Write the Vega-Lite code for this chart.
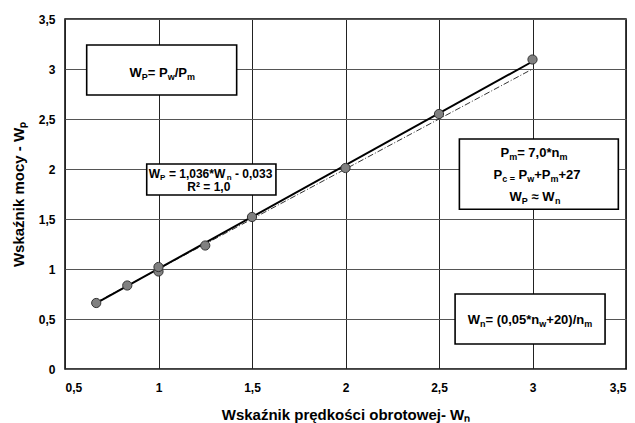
{
  "$schema": "https://vega.github.io/schema/vega-lite/v6.json",
  "width": 561,
  "height": 350,
  "autosize": "none",
  "padding": {"left": 65, "top": 19, "right": 9, "bottom": 54},
  "background": "white",
  "config": {
    "view": {"stroke": "#000", "strokeWidth": 1.5},
    "font": "Liberation Sans",
    "axis": {
      "labelFont": "Liberation Sans",
      "labelFontSize": 12,
      "labelFontWeight": "bold",
      "labelColor": "#000",
      "titleFont": "Liberation Sans",
      "titleFontSize": 15,
      "titleFontWeight": "bold",
      "titleColor": "#000",
      "ticks": false,
      "tickSize": 0,
      "domain": false,
      "grid": true,
      "gridWidth": 1
    }
  },
  "datasets": {
    "pts": [
      {"x": 0.667, "y": 0.66},
      {"x": 0.833, "y": 0.835},
      {"x": 1.0, "y": 0.975},
      {"x": 1.0, "y": 1.02},
      {"x": 1.25, "y": 1.235},
      {"x": 1.5, "y": 1.52},
      {"x": 2.0, "y": 2.01},
      {"x": 2.5, "y": 2.55},
      {"x": 3.0, "y": 3.095}
    ],
    "trend": [
      {"x": 0.667, "y": 0.658},
      {"x": 3.0, "y": 3.075}
    ],
    "ident": [
      {"x": 0.667, "y": 0.667},
      {"x": 3.0, "y": 3.0}
    ],
    "boxes": [
      {"x": 0.616, "x2": 1.418, "y": 3.24, "y2": 2.74},
      {"x": 2.609, "x2": 3.459, "y": 2.3, "y2": 1.597},
      {"x": 2.586, "x2": 3.388, "y": 0.75, "y2": 0.25},
      {"x": 0.937, "x2": 1.628, "y": 2.05, "y2": 1.74}
    ],
    "boxBase": [
      {"x": 0.8449, "y": 2.957, "t": "W"},
      {"x": 0.9426, "y": 2.957, "t": "= P"},
      {"x": 1.0864, "y": 2.957, "t": "/P"},
      {"x": 2.8289, "y": 2.156, "t": "P"},
      {"x": 2.918, "y": 2.156, "t": "= 7,0*n"},
      {"x": 2.7914, "y": 1.94, "t": "P"},
      {"x": 2.9253, "y": 1.94, "t": "P"},
      {"x": 3.0092, "y": 1.94, "t": "+P"},
      {"x": 3.1389, "y": 1.94, "t": "+27"},
      {"x": 2.8774, "y": 1.723, "t": "W"},
      {"x": 2.9944, "y": 1.723, "t": "≈ W"},
      {"x": 2.6535, "y": 0.49, "t": "W"},
      {"x": 2.7485, "y": 0.49, "t": "= (0,05*n"},
      {"x": 3.0738, "y": 0.49, "t": "+20)/n"}
    ],
    "boxSub": [
      {"x": 0.9105, "y": 2.957, "t": "P"},
      {"x": 1.0489, "y": 2.957, "t": "w"},
      {"x": 1.1521, "y": 2.957, "t": "m"},
      {"x": 2.8752, "y": 2.156, "t": "m"},
      {"x": 3.1441, "y": 2.156, "t": "m"},
      {"x": 2.8378, "y": 1.94, "t": "c ="},
      {"x": 2.9718, "y": 1.94, "t": "w"},
      {"x": 3.0961, "y": 1.94, "t": "m"},
      {"x": 2.943, "y": 1.723, "t": "P"},
      {"x": 3.1199, "y": 1.723, "t": "n"},
      {"x": 2.7191, "y": 0.49, "t": "n"},
      {"x": 3.0364, "y": 0.49, "t": "w"},
      {"x": 3.2766, "y": 0.49, "t": "m"}
    ],
    "eqBase": [
      {"x": 0.948, "y": 1.955, "t": "W"},
      {"x": 1.0555, "y": 1.955, "t": "= 1,036*W"},
      {"x": 1.409, "y": 1.955, "t": "- 0,033"}
    ],
    "eqSub": [
      {"x": 1.0086, "y": 1.955, "t": "P"},
      {"x": 1.3655, "y": 1.955, "t": "n"}
    ],
    "eqR": [
      {"x": 1.269, "y": 1.825, "t": "R² = 1,0"}
    ]
  },
  "encoding": {
    "x": {
      "field": "x",
      "type": "quantitative",
      "scale": {"domain": [0.5, 3.5], "nice": false, "zero": false},
      "axis": {
        "values": [0.5, 1, 1.5, 2, 2.5, 3, 3.5],
        "labelExpr": "replace(format(datum.value, '~g'), '.', ',')",
        "title": "Wskaźnik prędkości obrotowej- Wₙ",
        "gridColor": "#222",
        "labelPadding": 13,
        "titlePadding": 14
      }
    },
    "y": {
      "field": "y",
      "type": "quantitative",
      "scale": {"domain": [0, 3.5], "nice": false, "zero": false},
      "axis": {
        "values": [0, 0.5, 1, 1.5, 2, 2.5, 3, 3.5],
        "labelExpr": "replace(format(datum.value, '~g'), '.', ',')",
        "title": "Wskaźnik mocy - Wₚ",
        "gridColor": "#555",
        "labelPadding": 10,
        "titlePadding": 12
      }
    }
  },
  "layer": [
    {
      "data": {"name": "boxes"},
      "mark": {"type": "rect", "fill": "white", "stroke": "#000", "strokeWidth": 1.6},
      "encoding": {
        "x2": {"field": "x2"},
        "y2": {"field": "y2"}
      }
    },
    {
      "data": {"name": "ident"},
      "mark": {"type": "line", "color": "#333", "strokeWidth": 1, "strokeDash": [6, 2, 1, 2]},
      "encoding": {}
    },
    {
      "data": {"name": "trend"},
      "mark": {"type": "line", "color": "#000", "strokeWidth": 2}
    },
    {
      "data": {"name": "pts"},
      "mark": {"type": "point", "filled": true, "fill": "#808080", "stroke": "#333", "strokeWidth": 1, "size": 85, "opacity": 1}
    },
    {
      "data": {"name": "boxBase"},
      "mark": {"type": "text", "align": "left", "baseline": "middle", "fontSize": 13, "fontWeight": "bold", "color": "#000", "font": "Liberation Sans"},
      "encoding": {"text": {"field": "t"}}
    },
    {
      "data": {"name": "boxSub"},
      "mark": {"type": "text", "align": "left", "baseline": "middle", "fontSize": 9, "fontWeight": "bold", "dy": 4, "color": "#000", "font": "Liberation Sans"},
      "encoding": {"text": {"field": "t"}}
    },
    {
      "data": {"name": "eqBase"},
      "mark": {"type": "text", "align": "left", "baseline": "middle", "fontSize": 12, "fontWeight": "bold", "color": "#000", "font": "Liberation Sans"},
      "encoding": {"text": {"field": "t"}}
    },
    {
      "data": {"name": "eqSub"},
      "mark": {"type": "text", "align": "left", "baseline": "middle", "fontSize": 8, "fontWeight": "bold", "dy": 4, "color": "#000", "font": "Liberation Sans"},
      "encoding": {"text": {"field": "t"}}
    },
    {
      "data": {"name": "eqR"},
      "mark": {"type": "text", "align": "center", "baseline": "middle", "fontSize": 12, "fontWeight": "bold", "color": "#000", "font": "Liberation Sans"},
      "encoding": {"text": {"field": "t"}}
    }
  ]
}
